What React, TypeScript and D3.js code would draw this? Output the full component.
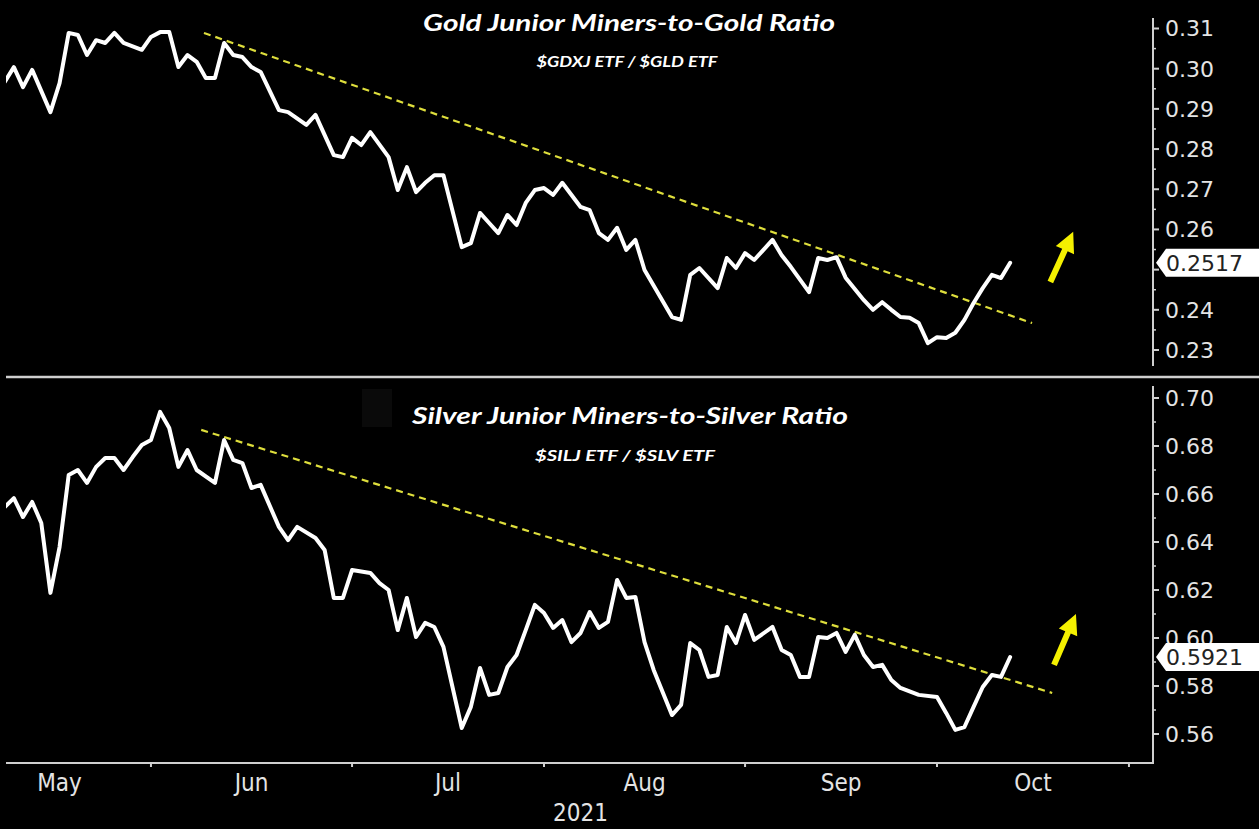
import React from "react";
import * as d3 from "d3";

// ---- Data (trading-day index: 0 = 1 Jun 2021) ----
const goldDays = [-16,-15,-14,-13,-11,-10,-9,-8,-7,-6,-5,-4,-3,-1,0,1,2,3,4,5,6,7,8,9,10,11,12,14,15,17,18,20,21,22,23,24,26,27,28,29,30,31,32,34,35,36,37,38,39,40,41,42,43,44,45,47,48,49,50,51,52,53,54,57,58,59,60,62,63,64,65,66,68,69,70,72,73,74,75,76,78,79,80,81,82,83,84,85,86,87,88,89,90,91,92,93,94];
const goldRatio = [0.2967,0.3004,0.2954,0.2997,0.2892,0.2964,0.3089,0.3084,0.3034,0.3071,0.3064,0.3089,0.3064,0.3047,0.3079,0.3091,0.3091,0.3004,0.3034,0.3017,0.2977,0.2977,0.3064,0.3034,0.3029,0.3004,0.2992,0.2897,0.2892,0.2860,0.2885,0.2785,0.2780,0.2828,0.2810,0.2842,0.2780,0.2698,0.2755,0.2693,0.2716,0.2735,0.2735,0.2556,0.2566,0.2641,0.2616,0.2591,0.2636,0.2611,0.2666,0.2698,0.2703,0.2686,0.2716,0.2656,0.2648,0.2591,0.2574,0.2604,0.2549,0.2574,0.2499,0.2382,0.2375,0.2487,0.2504,0.2454,0.2529,0.2504,0.2541,0.2524,0.2574,0.2536,0.2507,0.2444,0.2529,0.2524,0.2531,0.2480,0.2424,0.2400,0.2419,0.2400,0.2382,0.2380,0.2367,0.2317,0.2332,0.2330,0.2343,0.2375,0.2417,0.2454,0.2487,0.2479,0.2517];

const silverDays = [-16,-15,-14,-13,-12,-11,-10,-9,-8,-7,-6,-5,-4,-3,-2,-1,0,1,2,3,4,5,7,8,9,10,11,12,14,15,16,18,19,20,21,22,24,25,26,27,28,29,30,31,32,34,35,36,37,38,39,40,41,42,43,44,45,46,47,48,49,50,51,52,53,54,55,57,58,59,60,61,62,63,64,65,66,68,69,70,71,72,73,74,75,76,77,78,79,80,81,82,84,86,87,88,89,90,91,92,93,94];
const silverRatio = [0.6546,0.6583,0.6504,0.6567,0.6479,0.6188,0.6379,0.6679,0.6700,0.6646,0.6713,0.6750,0.6750,0.6700,0.6754,0.6804,0.6825,0.6942,0.6875,0.6713,0.6783,0.6700,0.6646,0.6825,0.6742,0.6729,0.6625,0.6638,0.6463,0.6408,0.6463,0.6417,0.6367,0.6167,0.6167,0.6283,0.6271,0.6229,0.6200,0.6033,0.6167,0.6004,0.6063,0.6046,0.5963,0.5625,0.5713,0.5875,0.5763,0.5771,0.5879,0.5929,0.6033,0.6138,0.6104,0.6042,0.6075,0.5983,0.6021,0.6108,0.6042,0.6067,0.6242,0.6167,0.6171,0.5983,0.5867,0.5679,0.5721,0.5979,0.5950,0.5838,0.5846,0.6046,0.5979,0.6096,0.5992,0.6046,0.5950,0.5929,0.5838,0.5838,0.6004,0.6000,0.6021,0.5942,0.6013,0.5929,0.5879,0.5888,0.5825,0.5792,0.5763,0.5754,0.5688,0.5617,0.5629,0.5713,0.5796,0.5846,0.5838,0.5921];

const goldTrendDays = [5.8, 96.4];
const goldTrendValues = [0.3089, 0.2367];
const silverTrendDays = [5.5, 98.6];
const silverTrendValues = [0.6867, 0.5771];

const goldArrowDays = [98.4, 100.9];
const goldArrowValues = [0.2469, 0.2594];
const silverArrowDays = [98.8, 101.2];
const silverArrowValues = [0.5888, 0.6100];

const monthStartDays = [-20, 0, 22, 43, 65, 86, 107];
const monthLabels = ["May", "Jun", "Jul", "Aug", "Sep", "Oct"];
const yearLabel = "2021";

const goldTicks = [0.23, 0.24, 0.25, 0.26, 0.27, 0.28, 0.29, 0.30, 0.31];
const silverTicks = [0.56, 0.58, 0.60, 0.62, 0.64, 0.66, 0.68, 0.70];
const goldLast = 0.2517;
const silverLast = 0.5921;

const goldTitle = "Gold Junior Miners-to-Gold Ratio";
const goldSubtitle = "$GDXJ ETF / $GLD ETF";
const silverTitle = "Silver Junior Miners-to-Silver Ratio";
const silverSubtitle = "$SILJ ETF / $SLV ETF";

// ---- Layout ----
const W = 1259;
const H = 829;
const plotLeft = 6;
const axisX = 1153;
const AXIS_COLOR = "#cfcfcf";
const TEXT_COLOR = "#e4e4e4";
const TREND_COLOR = "#dede3c";
const ARROW_COLOR = "#f4f000";

const x = d3.scaleLinear().domain([-15.86, 109.63]).range([plotLeft, axisX]);

function arrowPoints(x1: number, y1: number, x2: number, y2: number) {
  const dx = x2 - x1, dy = y2 - y1;
  const len = Math.hypot(dx, dy);
  const ux = dx / len, uy = dy / len;
  const nx = -uy, ny = ux;
  const sw = 3, hw = 10, hl = 20;
  const bx = x2 - ux * hl, by = y2 - uy * hl;
  const pts = [
    [x1 + nx * sw, y1 + ny * sw],
    [bx + nx * sw, by + ny * sw],
    [bx + nx * hw, by + ny * hw],
    [x2, y2],
    [bx - nx * hw, by - ny * hw],
    [bx - nx * sw, by - ny * sw],
    [x1 - nx * sw, y1 - ny * sw],
  ];
  return pts.map((p) => p.join(",")).join(" ");
}

type PanelProps = {
  id: string;
  days: number[];
  values: number[];
  y: d3.ScaleLinear<number, number>;
  ticks: number[];
  step: number;
  last: number;
  trendDays: number[];
  trendValues: number[];
  arrowDays: number[];
  arrowValues: number[];
  axisTop: number;
  axisBottom: number;
  clipTop: number;
  clipBottom: number;
  title: string;
  subtitle: string;
  titleY: number;
  subtitleY: number;
  titleWidth: number;
  subtitleWidth: number;
  titleX: number;
  subtitleX: number;
};

function Panel(p: PanelProps) {
  const pts = p.days.map((d, i) => [d, p.values[i]] as [number, number]);
  const line = d3
    .line<[number, number]>()
    .x((d) => x(d[0]))
    .y((d) => p.y(d[1]));
  const lastY = p.y(p.last);
  const minor = p.ticks.slice(0, -1).map((t) => t + p.step / 2);
  const a1x = x(p.arrowDays[0]), a1y = p.y(p.arrowValues[0]);
  const a2x = x(p.arrowDays[1]), a2y = p.y(p.arrowValues[1]);
  return (
    <g>
      <clipPath id={p.id}>
        <rect x={plotLeft} y={p.clipTop} width={axisX - plotLeft} height={p.clipBottom - p.clipTop} />
      </clipPath>
      <text
        x={p.titleX}
        y={p.titleY}
        textAnchor="middle"
        fill="#ffffff"
        fontFamily="Lato, 'Open Sans', sans-serif"
        fontStyle="italic"
        fontWeight={700}
        fontSize={22}
        textLength={p.titleWidth}
        lengthAdjust="spacingAndGlyphs"
      >
        {p.title}
      </text>
      <text
        x={p.subtitleX}
        y={p.subtitleY}
        textAnchor="middle"
        fill="#ffffff"
        fontFamily="Lato, 'Open Sans', sans-serif"
        fontStyle="italic"
        fontWeight={700}
        fontSize={15}
        textLength={p.subtitleWidth}
        lengthAdjust="spacingAndGlyphs"
      >
        {p.subtitle}
      </text>
      <g clipPath={`url(#${p.id})`}>
        <line
          x1={x(p.trendDays[0])}
          y1={p.y(p.trendValues[0])}
          x2={x(p.trendDays[1])}
          y2={p.y(p.trendValues[1])}
          stroke={TREND_COLOR}
          strokeWidth={2.2}
          strokeDasharray="7,5"
        />
        <path
          d={line(pts) || ""}
          fill="none"
          stroke="#ffffff"
          strokeWidth={4}
          strokeLinejoin="round"
          strokeLinecap="round"
        />
        <polygon points={arrowPoints(a1x, a1y, a2x, a2y)} fill={ARROW_COLOR} />
      </g>
      {/* right axis */}
      <line x1={axisX} y1={p.axisTop} x2={axisX} y2={p.axisBottom} stroke={AXIS_COLOR} strokeWidth={2} />
      {p.ticks.map((t) => (
        <line key={"t" + t} x1={axisX} x2={axisX + 6} y1={p.y(t)} y2={p.y(t)} stroke={AXIS_COLOR} strokeWidth={2} />
      ))}
      {minor.map((t) => (
        <line key={"m" + t} x1={axisX} x2={axisX + 3} y1={p.y(t)} y2={p.y(t)} stroke={AXIS_COLOR} strokeWidth={1.5} />
      ))}
      {p.ticks
        .filter((t) => Math.abs(p.y(t) - lastY) > 12)
        .map((t) => (
          <text
            key={"l" + t}
            x={axisX + 12}
            y={p.y(t)}
            dy="0.36em"
            fill={TEXT_COLOR}
            fontFamily="'DejaVu Sans', Verdana, sans-serif"
            fontSize={22}
          >
            {d3.format(".2f")(t)}
          </text>
        ))}
      <path
        d={`M${axisX + 3},${lastY} L${axisX + 13},${lastY - 14} L${W},${lastY - 14} L${W},${lastY + 14} L${axisX + 13},${lastY + 14} Z`}
        fill="#ffffff"
      />
      <text
        x={axisX + 13}
        y={lastY}
        dy="0.36em"
        fill="#222"
        fontFamily="'DejaVu Sans', Verdana, sans-serif"
        fontSize={22}
      >
        {d3.format(".4f")(p.last)}
      </text>
    </g>
  );
}

export default function App() {
  const yGold = d3.scaleLinear().domain([0.23, 0.31]).range([350, 28.5]);
  const ySilver = d3.scaleLinear().domain([0.56, 0.70]).range([734, 398]);
  const xAxisY = 763;
  const labelPos = monthLabels.map((m, i) => (monthStartDays[i] + monthStartDays[i + 1]) / 2);
  const yearPos = (monthStartDays[3] + monthStartDays[4]) / 2 - 7;
  return (
    <div style={{ position: "fixed", left: 0, top: 0, width: W, height: H, background: "#000" }}>
      <svg width={W} height={H} style={{ display: "block" }}>
        <rect x={0} y={0} width={W} height={H} fill="#000" />
        <rect x={362} y={389} width={30} height={38} fill="#0a0a0a" />
        <Panel
          id="clipGold"
          days={goldDays}
          values={goldRatio}
          y={yGold}
          ticks={goldTicks}
          step={0.01}
          last={goldLast}
          trendDays={goldTrendDays}
          trendValues={goldTrendValues}
          arrowDays={goldArrowDays}
          arrowValues={goldArrowValues}
          axisTop={18}
          axisBottom={366}
          clipTop={0}
          clipBottom={374}
          title={goldTitle}
          subtitle={goldSubtitle}
          titleX={629}
          titleY={31}
          titleWidth={412}
          subtitleX={627}
          subtitleY={67}
          subtitleWidth={181}
        />
        <Panel
          id="clipSilver"
          days={silverDays}
          values={silverRatio}
          y={ySilver}
          ticks={silverTicks}
          step={0.02}
          last={silverLast}
          trendDays={silverTrendDays}
          trendValues={silverTrendValues}
          arrowDays={silverArrowDays}
          arrowValues={silverArrowValues}
          axisTop={386}
          axisBottom={xAxisY}
          clipTop={380}
          clipBottom={xAxisY - 1}
          title={silverTitle}
          subtitle={silverSubtitle}
          titleX={630}
          titleY={424}
          titleWidth={436}
          subtitleX={625}
          subtitleY={461}
          subtitleWidth={180}
        />
        {/* panel separator */}
        <line x1={plotLeft} x2={W} y1={377} y2={377} stroke={AXIS_COLOR} strokeWidth={2.5} />
        {/* x axis */}
        <line x1={plotLeft} x2={axisX + 1} y1={xAxisY} y2={xAxisY} stroke={AXIS_COLOR} strokeWidth={2} />
        {monthStartDays
          .filter((d) => x(d) > plotLeft && x(d) < axisX)
          .map((d) => (
            <line key={"xt" + d} x1={x(d)} x2={x(d)} y1={xAxisY} y2={xAxisY + 4} stroke={AXIS_COLOR} strokeWidth={2} />
          ))}
        {monthLabels.map((m, i) => (
          <text
            key={m}
            x={x(labelPos[i])}
            y={782}
            dy="0.36em"
            textAnchor="middle"
            fill={TEXT_COLOR}
            fontFamily="'DejaVu Sans Condensed', 'DejaVu Sans', sans-serif"
            fontSize={24}
          >
            {m}
          </text>
        ))}
        <text
          x={x(yearPos)}
          y={812}
          dy="0.36em"
          textAnchor="middle"
          fill={TEXT_COLOR}
          fontFamily="'DejaVu Sans Condensed', 'DejaVu Sans', sans-serif"
          fontSize={24}
        >
          {yearLabel}
        </text>
      </svg>
    </div>
  );
}
